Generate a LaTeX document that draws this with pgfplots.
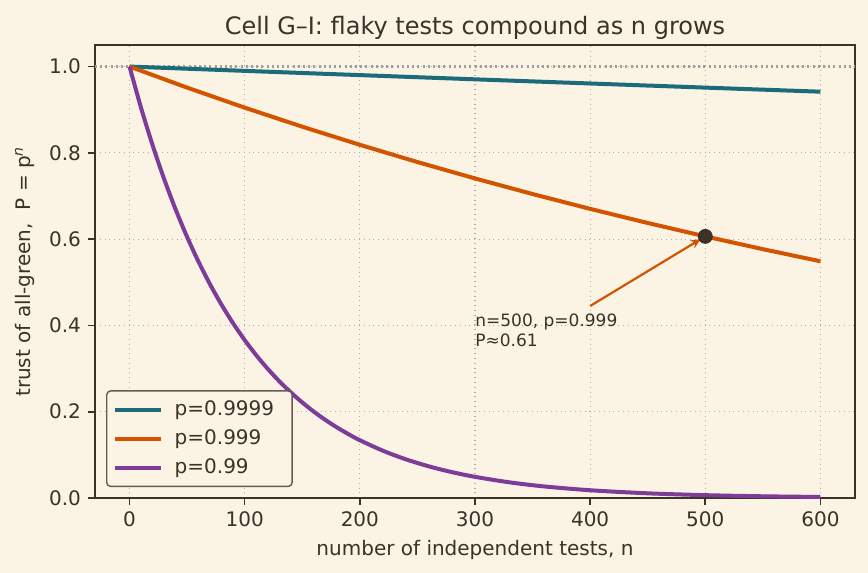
\documentclass[border=0pt]{standalone}
\usepackage{pgfplots}
\pgfplotsset{compat=1.18}
\usepackage{fontspec}
\setmainfont{DejaVu Sans}
\usetikzlibrary{arrows.meta}
\definecolor{bg}{HTML}{FBF3E4}
\definecolor{txt}{HTML}{3B3228}
\definecolor{teal}{HTML}{1B6B7B}
\definecolor{orng}{HTML}{D35400}
\definecolor{purp}{HTML}{7D3C98}
\definecolor{gridc}{HTML}{B5AC9C}
\begin{document}
\begin{tikzpicture}
\fill[bg] (-47.5pt,-37.5pt) rectangle (386.5pt,249pt);
\begin{axis}[
  scale only axis,
  width=380pt, height=226.5pt,
  xmin=-30, xmax=630, ymin=0, ymax=1.05,
  xtick={0,100,200,300,400,500,600},
  ytick={0,0.2,0.4,0.6,0.8,1.0},
  yticklabel style={/pgf/number format/.cd,fixed,fixed zerofill,precision=1},
  /pgf/number format/assume math mode=true,
  tick label style={font=\fontsize{10}{12}\selectfont, text=txt},
  tick align=outside, tick pos=left,
  major tick length=3.5pt,
  every tick/.style={txt, line width=0.8pt},
  axis line style={txt, line width=1pt},
  grid=major,
  major grid style={gridc, dotted, line width=0.6pt},
  axis background/.style={fill=bg},
  title={Cell G–I: flaky tests compound as n grows},
  title style={font=\fontsize{12}{14}\selectfont, text=txt, yshift=-7pt},
  xlabel={number of independent tests, n},
  ylabel={trust of all-green,\ \ P = p\textsuperscript{\itshape n}},
  label style={font=\fontsize{10}{12}\selectfont, text=txt},
  xlabel style={yshift=0.5pt},
  ylabel style={yshift=0.5pt},
  legend style={at={(rel axis cs:0.0145,0.024)}, anchor=south west,
    draw=txt!80, fill=bg, rounded corners=2pt, line width=0.7pt,
    font=\fontsize{10}{12}\selectfont, text=txt,
    row sep=1.5pt, inner xsep=3pt, inner ysep=3pt,
    nodes={inner xsep=6pt}},
  legend cell align=left,
  legend image code/.code={\draw[#1] (0pt,0pt) -- (23pt,0pt);},
]
\addplot[gray!75, line width=1.1pt, dash pattern=on 1pt off 1.6pt, forget plot] coordinates {(-30,1) (630,1)};
\addplot[teal, line width=2pt] coordinates {
(0,1) (100,0.990050) (200,0.980199) (300,0.970446) (400,0.960789) (500,0.951229) (600,0.941765)};
\addlegendentry{p=0.9999}
\addplot[orng, line width=2pt] coordinates {
(0,1) (50,0.951206) (100,0.904792) (150,0.860642) (200,0.818649) (250,0.778704) (300,0.740706)
(350,0.704557) (400,0.670186) (450,0.637486) (500,0.606379) (550,0.576790) (600,0.548647)};
\addlegendentry{p=0.999}
\addplot[purp, line width=2pt, smooth] coordinates {
(0,1) (10,0.904382) (20,0.817907) (30,0.739700) (40,0.668971) (50,0.605006) (60,0.547157)
(70,0.494839) (80,0.447523) (90,0.404732) (100,0.366032) (110,0.331033) (120,0.299380)
(130,0.270754) (140,0.244865) (150,0.221452) (160,0.200277) (170,0.181127) (180,0.163808)
(190,0.148145) (200,0.133980) (220,0.109586) (240,0.089635) (260,0.073316) (280,0.059967)
(300,0.049048) (330,0.036281) (360,0.026837) (400,0.017951) (450,0.010860) (500,0.006570)
(550,0.003975) (600,0.002405)};
\addlegendentry{p=0.99}
\addplot[only marks, mark=*, mark size=3.5pt, txt, forget plot] coordinates {(500,0.606379)};
\draw[orng, line width=1.1pt, -{Stealth[length=5pt,width=4.5pt]}] (axis cs:400,0.445) -- (axis cs:496,0.600);
\node[anchor=south west, align=left, inner sep=0pt, text=txt, font=\fontsize{8.5}{10}\selectfont]
  at (axis cs:300,0.35) {n=500, p=0.999\\P≈0.61};
\end{axis}
\pgfresetboundingbox
\useasboundingbox (-47.5pt,-37.5pt) rectangle (386.5pt,249pt);
\end{tikzpicture}
\end{document}
